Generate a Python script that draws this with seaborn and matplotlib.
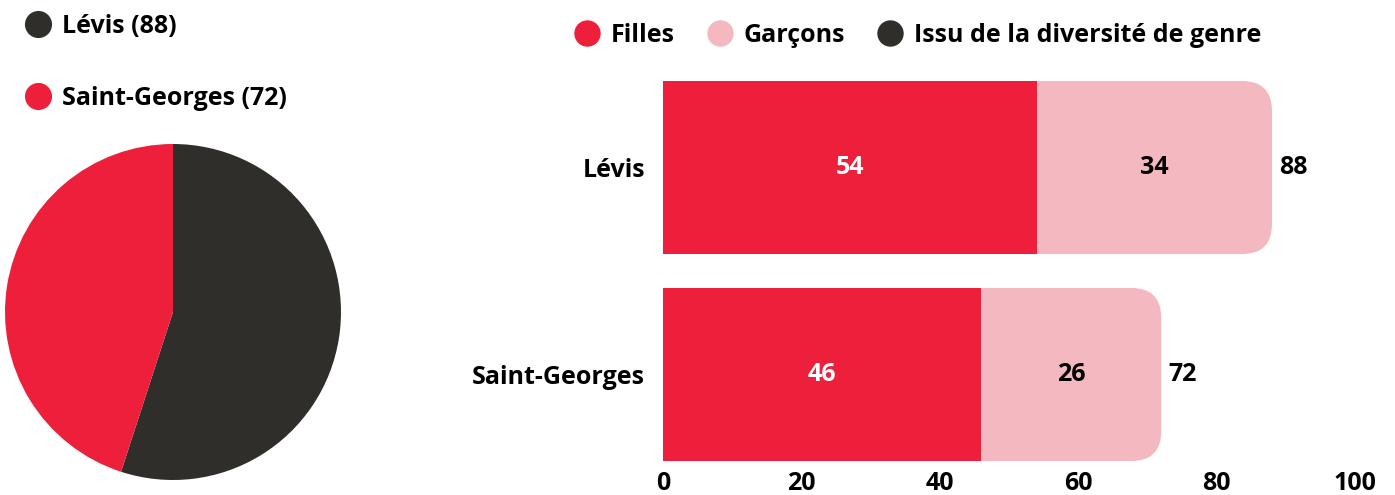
import numpy as np
import pandas as pd
import seaborn as sns
import matplotlib.pyplot as plt
from matplotlib.patches import FancyBboxPatch
from matplotlib.lines import Line2D

# data
sites = ["Lévis", "Saint-Georges"]
filles = [54, 46]
garcons = [34, 26]
diversite = [0, 0]
totals = [f + g + d for f, g, d in zip(filles, garcons, diversite)]
genres = ["Filles", "Garçons", "Issu de la diversité de genre"]
xticks = [0, 20, 40, 60, 80, 100]

RED = "#ED1F3A"
PINK = "#F4B8C0"
DARK = "#302E2B"

sns.set_theme(style="white")
plt.rcParams["font.family"] = ["Open Sans", "DejaVu Sans"]
plt.rcParams["text.color"] = "black"
FS = 18

W, H = 1395, 495
fig = plt.figure(figsize=(W / 100, H / 100), dpi=100)


def box(l, t, r, b):
    return [l / W, 1 - b / H, (r - l) / W, (b - t) / H]


# pie
ax_pie = fig.add_axes(box(5, 144, 341, 480))
ax_pie.pie(totals, colors=[DARK, RED], startangle=90, counterclock=False,
           wedgeprops=dict(linewidth=0))
ax_pie.set_xlim(-1, 1)
ax_pie.set_ylim(-1, 1)
ax_pie.set_aspect("equal")

font = dict(family=["Open Sans", "DejaVu Sans"], weight="bold", size=FS)

pie_handles = [Line2D([], [], marker="o", ls="", ms=18.5, color=c) for c in [DARK, RED]]
fig.legend(pie_handles, [f"{s} ({t})" for s, t in zip(sites, totals)],
           loc="upper left", bbox_to_anchor=(3 / W, 1 + 9 / H), frameon=False,
           labelspacing=1.9, handlelength=1.0, handletextpad=0.45,
           labelcolor="black", prop=font)

# stacked bars
ax = fig.add_axes(box(663, 81, 1355, 461))
df = pd.DataFrame({"site": sites, "Filles": filles, "Garçons": garcons, "total": totals})
bar_h = 0.836

sns.barplot(data=df, y="site", x="total", color=PINK, saturation=1, width=bar_h,
            linewidth=0, ax=ax)
# rounded right ends for the outer segment
for p in list(ax.patches):
    x0, y0, w, h = p.get_x(), p.get_y(), p.get_width(), p.get_height()
    p.remove()
    ax.add_patch(FancyBboxPatch((x0, y0), w, h,
                                boxstyle="round,pad=0,rounding_size=4.3",
                                mutation_aspect=0.0337, fc=PINK, ec="none",
                                lw=0, zorder=1))

sns.barplot(data=df, y="site", x="Filles", color=RED, saturation=1, width=bar_h,
            linewidth=0, ax=ax, zorder=2)

for i, (f, g, t) in enumerate(zip(filles, garcons, totals)):
    ax.text(f / 2, i, str(f), ha="center", va="center", color="white",
            fontsize=FS, fontweight="bold", zorder=5)
    ax.text(f + g / 2, i, str(g), ha="center", va="center", color="black",
            fontsize=FS, fontweight="bold", zorder=5)
    ax.text(t + 1, i, str(t), ha="left", va="center", color="black",
            fontsize=FS, fontweight="bold", zorder=5)

ax.set_xlim(0, 100)
ax.set_ylim(1 + 0.418, -0.418)
ax.set_xticks(xticks)
ax.set_xlabel("")
ax.set_ylabel("")
ax.tick_params(axis="both", length=0, labelsize=FS, colors="black")
ax.tick_params(axis="y", pad=13)
ax.tick_params(axis="x", pad=7)
for lab in ax.get_yticklabels() + ax.get_xticklabels():
    lab.set_fontweight("bold")
sns.despine(ax=ax, left=True, bottom=True)

bar_handles = [Line2D([], [], marker="o", ls="", ms=18, color=c) for c in [RED, PINK, DARK]]
fig.legend(bar_handles, genres, loc="center", bbox_to_anchor=(918 / W, 1 - 35 / H),
           ncol=3, frameon=False, handlelength=1.0, handletextpad=0.45,
           columnspacing=1.3, labelcolor="black", prop=font)

fig.savefig("out.png", dpi=100)
